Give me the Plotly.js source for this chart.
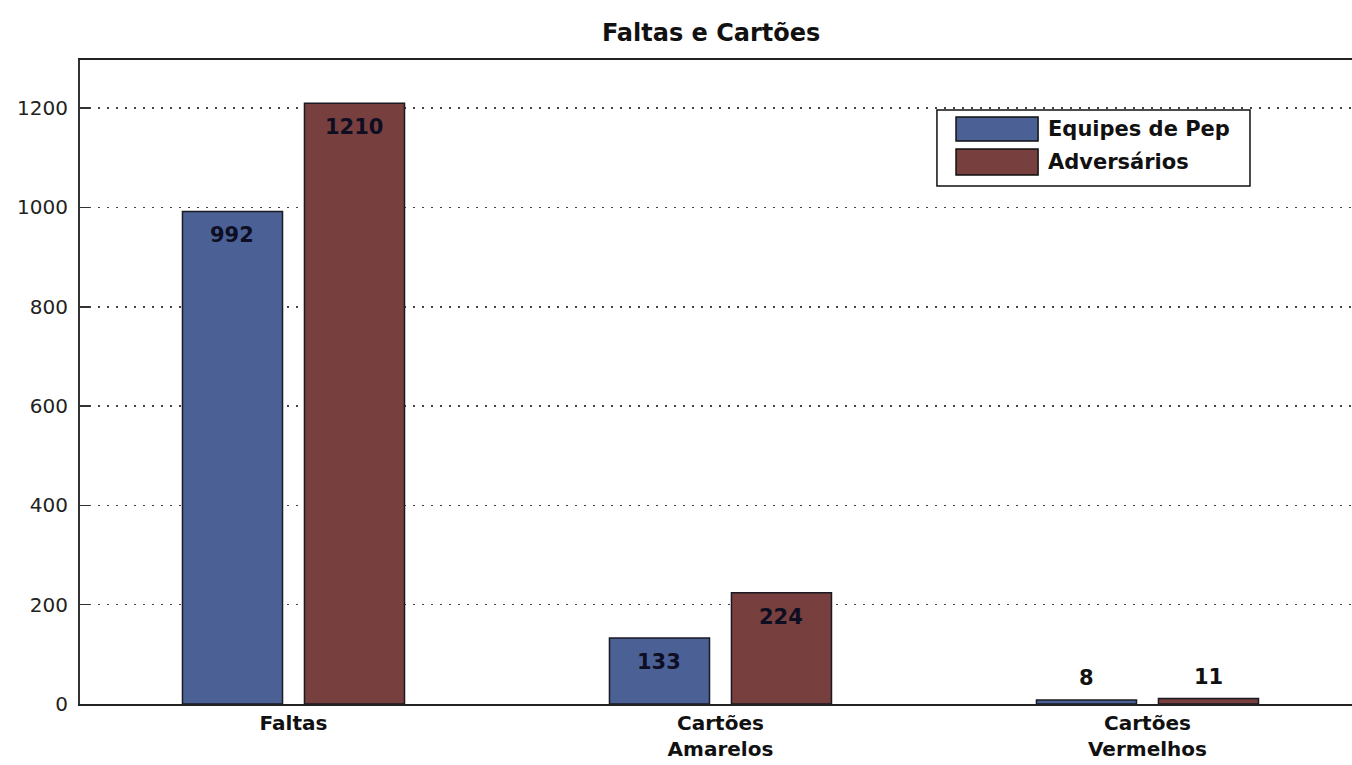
<!DOCTYPE html>
<html>
<head>
<meta charset="utf-8">
<script src="https://cdn.plot.ly/plotly-3.0.1.min.js"></script>
<style>html,body{margin:0;padding:0;background:#fff;}#chart{width:1352px;height:765px;}</style>
</head>
<body>
<div id="chart"></div>
<script>
const categories = ["Faltas", "Cartões<br>Amarelos", "Cartões<br>Vermelhos"];
const seriesNames = ["Equipes de Pep", "Adversários"];
const pepValues = [992, 133, 8];
const advValues = [1210, 224, 11];
const yTicks = [0, 200, 400, 600, 800, 1000, 1200];
const chartTitle = "Faltas e Cartões";

const colors = ["#4b6196", "#773f3e"];
const series = [pepValues, advValues];
const xs = [0, 1, 2];

const traces = series.map((vals, i) => ({
  type: "bar",
  name: seriesNames[i],
  x: xs,
  y: vals,
  marker: {color: colors[i], line: {color: "#1a1a22", width: 1.5}},
  hoverinfo: "y",
  showlegend: false
}));

const annotations = [];
series.forEach((vals, i) => {
  vals.forEach((v, j) => {
    const inside = v > 100;
    annotations.push({
      x: xs[j], y: v, xref: "x", yref: "y",
      text: String(v), showarrow: false,
      xshift: i === 0 ? -61 : 61,
      yshift: inside ? -24 : 22,
      yanchor: "middle",
      font: {family: "DejaVu Sans", size: 21, weight: "bold", color: inside ? "#0e0e22" : "#111"}
    });
  });
});

// legend (custom)
const legY = [0.8929, 0.8416];
const swY = [[0.8742, 0.9115], [0.8214, 0.8618]];
const shapes = [{
  type: "rect", xref: "paper", yref: "paper",
  x0: 0.6737, x1: 0.9198, y0: 0.8043, y1: 0.9224,
  line: {color: "#111", width: 1.5}, fillcolor: "#fff", layer: "above"
}];
seriesNames.forEach((n, i) => {
  shapes.push({
    type: "rect", xref: "paper", yref: "paper",
    x0: 0.6887, x1: 0.7532, y0: swY[i][0], y1: swY[i][1],
    line: {color: "#111", width: 1.5}, fillcolor: colors[i], layer: "above"
  });
  annotations.push({
    xref: "paper", yref: "paper", x: 0.7594, y: legY[i],
    xanchor: "left", yanchor: "middle", showarrow: false, text: n,
    font: {family: "DejaVu Sans", size: 21, weight: "bold", color: "#111"}
  });
});

const layout = {
  width: 1352, height: 765,
  margin: {l: 80, r: 0, t: 60, b: 61},
  paper_bgcolor: "#fff", plot_bgcolor: "#fff",
  title: {text: chartTitle, xref: "container", x: 0.526, xanchor: "center",
          yref: "container", y: 0.957, yanchor: "middle",
          font: {family: "DejaVu Sans", size: 24, weight: "bold", color: "#111"}},
  barmode: "group", bargap: 0.4286, bargroupgap: 0.18,
  xaxis: {
    range: [-0.5, 2.479], tickvals: xs, ticktext: categories,
    showline: true, mirror: true, linecolor: "#222", linewidth: 2,
    ticks: "", showgrid: false, zeroline: false, ticklabelstandoff: 0,
    tickfont: {family: "DejaVu Sans", size: 20, weight: "bold", color: "#111"}
  },
  yaxis: {
    range: [0, 1297], tickvals: yTicks, ticktext: yTicks.map(String),
    showline: true, linecolor: "#333", linewidth: 2,
    ticks: "inside", ticklen: 10, tickwidth: 1.5, tickcolor: "#333",
    showgrid: true, gridcolor: "#444", gridwidth: 1.5, griddash: "2px,7px",
    zeroline: false, ticklabelstandoff: 6,
    tickfont: {family: "DejaVu Sans", size: 20, color: "#222"}
  },
  shapes: shapes,
  annotations: annotations,
  showlegend: false
};

Plotly.newPlot("chart", traces, layout, {displayModeBar: false, staticPlot: true});
</script>
</body>
</html>
